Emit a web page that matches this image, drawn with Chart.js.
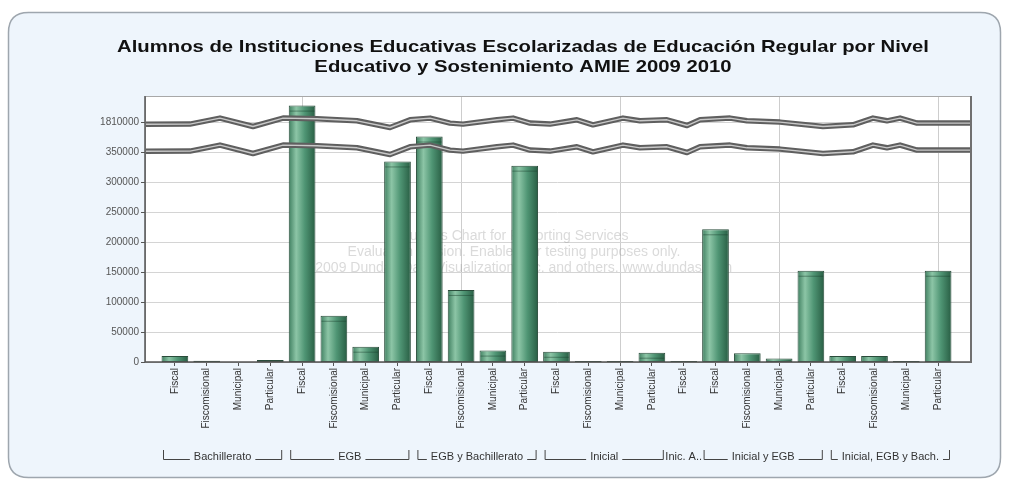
<!DOCTYPE html>
<html><head><meta charset="utf-8">
<script src="https://cdn.jsdelivr.net/npm/chart.js@4/dist/chart.umd.min.js"></script>
<style>html,body{margin:0;padding:0;background:#fff;overflow:hidden}</style>
</head><body>
<canvas id="c" width="1009" height="482"></canvas>
<script>
// ---------- DATA ----------
const categories = [
  "Fiscal","Fiscomisional","Municipal","Particular",
  "Fiscal","Fiscomisional","Municipal","Particular",
  "Fiscal","Fiscomisional","Municipal","Particular",
  "Fiscal","Fiscomisional","Municipal","Particular",
  "Fiscal",
  "Fiscal","Fiscomisional","Municipal","Particular",
  "Fiscal","Fiscomisional","Municipal","Particular"
];
const groups = ["Bachillerato","EGB","EGB y Bachillerato","Inicial","Inic. A..","Inicial y EGB","Inicial, EGB y Bach."];
const groupSizes = [4,4,4,4,1,4,4];
const students = [
  10000, 2000, 0, 3300,
  1837000, 77000, 25500, 334000,
  375500, 120000, 19000, 327000,
  17000, 1800, 1600, 15500,
  1500,
  221000, 14400, 6000, 152000,
  10000, 10000, 1500, 152000
];
const tickValues = [0,50000,100000,150000,200000,250000,300000,350000,1810000];
const tickLabels = ["0","50000","100000","150000","200000","250000","300000","350000","1810000"];
const titleLines = [
  "Alumnos de Instituciones Educativas Escolarizadas de Educación Regular por Nivel",
  "Educativo y Sostenimiento AMIE 2009 2010"
];
const watermarkLines = [
  "Dundas Chart for Reporting Services",
  "Evaluation version. Enabled for testing purposes only.",
  "(C)2009 Dundas Data Visualization, Inc. and others. www.dundas.com"
];
// scale break: values between BREAK_LOW and BREAK_HIGH are collapsed
const BREAK_LOW = 400000;
const BREAK_HIGH = 1810000;
const AXIS_TOP = 443000;
function toAxis(v){ return v <= BREAK_LOW ? v : BREAK_LOW + (v - BREAK_HIGH); }

// ---------- STYLE ----------
const FONT = "'Liberation Sans', Arial, sans-serif";
const BAR_PCT = 0.84;
const FRAME_L = 14, FRAME_R = 16;
// wavy break shape: [fraction of frame width, dy px]
const WAVE = [[0,2.5],[.0545,2.3],[.0909,-3.7],[.1309,4.7],[.1673,-3.7],[.2085,-3],[.257,-1],[.297,5.7],[.3212,-2],[.3455,-3.7],[.3697,1.3],[.3855,2.3],[.4267,-2],[.4461,-3.7],[.4667,1.3],[.4909,2.3],[.5236,-2],[.5430,3],[.5794,-3.7],[.6,-1],[.6327,-2],[.6570,3.7],[.6727,-2],[.7091,-3.7],[.7297,-1],[.7697,.3],[.8218,4.7],[.8582,3],[.8824,-3.7],[.8994,-1],[.9152,-3.7],[.9358,1.3],[1,1.3]];

function roundRect(ctx,x,y,w,h,r){
  ctx.beginPath();
  ctx.moveTo(x+r,y);ctx.lineTo(x+w-r,y);ctx.quadraticCurveTo(x+w,y,x+w,y+r);
  ctx.lineTo(x+w,y+h-r);ctx.quadraticCurveTo(x+w,y+h,x+w-r,y+h);
  ctx.lineTo(x+r,y+h);ctx.quadraticCurveTo(x,y+h,x,y+h-r);
  ctx.lineTo(x,y+r);ctx.quadraticCurveTo(x,y,x+r,y);ctx.closePath();
}

const decor = {
  id:'decor',
  beforeDraw(chart){
    const ctx = chart.ctx, a = chart.chartArea;
    ctx.save();
    ctx.fillStyle = '#ffffff'; ctx.fillRect(0,0,chart.width,chart.height);
    roundRect(ctx,8.5,12.5,992,465,20);
    ctx.fillStyle = '#eef5fc'; ctx.fill();
    ctx.lineWidth = 1.5; ctx.strokeStyle = '#9ea6ae'; ctx.stroke();
    // plot background
    ctx.fillStyle = '#ffffff';
    ctx.fillRect(a.left-FRAME_L, a.top, a.right-a.left+FRAME_L+FRAME_R, a.bottom-a.top);
    // title
    ctx.fillStyle = '#111';
    ctx.font = "bold 17px " + FONT;
    ctx.textAlign = 'center'; ctx.textBaseline = 'middle';
    const cx = 523;
    const w0 = ctx.measureText(titleLines[0]).width;
    const sx = 812 / w0;
    [47,67].forEach((y,i)=>{
      ctx.save(); ctx.translate(cx,y); ctx.scale(sx,1);
      ctx.fillText(titleLines[i],0,0); ctx.restore();
    });
    ctx.restore();
  },
  beforeDatasetsDraw(chart){
    const ctx = chart.ctx, a = chart.chartArea, ys = chart.scales.y;
    const fl = a.left-FRAME_L, fr = a.right+FRAME_R;
    ctx.save();
    ctx.strokeStyle = '#d4d4d4'; ctx.lineWidth = 1;
    ys.ticks.forEach(t=>{
      const y = Math.round(ys.getPixelForValue(t.value))+0.5;
      ctx.beginPath(); ctx.moveTo(fl,y); ctx.lineTo(fr,y); ctx.stroke();
    });
    // watermark
    ctx.fillStyle = 'rgba(140,140,140,0.32)';
    ctx.font = "14px " + FONT; ctx.textAlign='center'; ctx.textBaseline='middle';
    [236,252,268].forEach((y,i)=>ctx.fillText(watermarkLines[i],514,y));
    ctx.restore();
  },
  afterDatasetsDraw(chart){
    const ctx = chart.ctx, a = chart.chartArea, ys = chart.scales.y, xs = chart.scales.x;
    const fl = a.left-FRAME_L, fr = a.right+FRAME_R;
    ctx.save();
    // bar top caps
    const meta = chart.getDatasetMeta(0);
    meta.data.forEach(b=>{
      if (b.base - b.y > 9){
        ctx.strokeStyle='rgba(25,60,42,0.45)'; ctx.lineWidth=1;
        ctx.beginPath(); ctx.moveTo(b.x-b.width/2+1,b.y+5.5); ctx.lineTo(b.x+b.width/2-1,b.y+5.5); ctx.stroke();
      }
    });
    // breaks
    const yUp = ys.getPixelForValue(toAxis(BREAK_HIGH));
    [yUp, yUp+27].forEach(by=>{
      ctx.beginPath();
      WAVE.forEach((p,i)=>{ const x = fl + p[0]*(fr-fl), y = by + p[1]; i?ctx.lineTo(x,y):ctx.moveTo(x,y); });
      ctx.lineJoin='round'; ctx.lineCap='butt';
      ctx.strokeStyle='#5f5f5f'; ctx.lineWidth=5.5; ctx.stroke();
      ctx.strokeStyle='#c9c9c9'; ctx.lineWidth=1.4; ctx.stroke();
    });
    // frame
    ctx.strokeStyle='#a8a8a8'; ctx.lineWidth=1;
    ctx.strokeRect(fl+0.5, a.top+0.5, fr-fl, a.bottom-a.top);
    ctx.strokeStyle='#707070'; ctx.lineWidth=2;
    ctx.beginPath(); ctx.moveTo(fr+1,a.top); ctx.lineTo(fr+1,a.bottom+1); ctx.stroke();
    ctx.strokeStyle='#555'; ctx.lineWidth=1.5;
    ctx.beginPath(); ctx.moveTo(fl,a.top); ctx.lineTo(fl,a.bottom); ctx.lineTo(fr,a.bottom); ctx.stroke();
    // y tick marks
    ctx.lineWidth=1; ctx.strokeStyle='#555';
    ys.ticks.forEach(t=>{
      const y = Math.round(ys.getPixelForValue(t.value))+0.5;
      ctx.beginPath(); ctx.moveTo(fl-4,y); ctx.lineTo(fl,y); ctx.stroke();
    });
    // group brackets
    const half = (a.right-a.left)/categories.length/2;
    ctx.font = "11px " + FONT; ctx.textAlign='center'; ctx.textBaseline='middle';
    ctx.strokeStyle='#444'; ctx.fillStyle='#333'; ctx.lineWidth=1;
    let idx = 0;
    const yl = 459.5, yt = 450;
    groups.forEach((g,gi)=>{
      const n = groupSizes[gi];
      const x0 = xs.getPixelForValue(idx) - half + 4;
      const x1 = xs.getPixelForValue(idx+n-1) + half - 4;
      idx += n;
      const mid = (x0+x1)/2, tw = ctx.measureText(g).width;
      ctx.fillText(g, mid, 456.5);
      if (tw + 12 < x1-x0){
        ctx.beginPath();
        ctx.moveTo(x0+0.5,yt); ctx.lineTo(x0+0.5,yl); ctx.lineTo(mid-tw/2-4,yl);
        ctx.moveTo(mid+tw/2+4,yl); ctx.lineTo(x1-0.5,yl); ctx.lineTo(x1-0.5,yt);
        ctx.stroke();
      }
    });
    ctx.restore();
  }
};

new Chart(document.getElementById('c'), {
  type:'bar',
  data:{
    labels: categories,
    datasets:[{
      data: students.map(toAxis),
      borderColor:'#2a4c3b', borderWidth:1, borderSkipped:false,
      barPercentage: BAR_PCT, categoryPercentage: 1,
      backgroundColor:(c)=>{
        const chart = c.chart, a = chart.chartArea;
        if (!a || c.type !== 'data') return '#4e9574';
        const x = chart.scales.x.getPixelForValue(c.dataIndex);
        const w = (a.right-a.left)/categories.length*BAR_PCT;
        const g = chart.ctx.createLinearGradient(x-w/2,0,x+w/2,0);
        g.addColorStop(0,'#3f7f60'); g.addColorStop(0.28,'#8cc5a6');
        g.addColorStop(0.6,'#4f9574'); g.addColorStop(1,'#285d43');
        return g;
      }
    }]
  },
  options:{
    responsive:false, animation:false, devicePixelRatio:1,
    layout:{padding:{left:99,right:55,top:96,bottom:52}},
    plugins:{legend:{display:false}, title:{display:false}, tooltip:{enabled:false}},
    scales:{
      x:{
        type:'category', offset:true,
        grid:{offset:false, drawOnChartArea:true, lineWidth:1,
          color:(c)=> (c.index%5===4)?'#cdcdcd':'rgba(0,0,0,0)',
          tickColor:'#555', tickLength:4},
        border:{display:false},
        ticks:{autoSkip:false, minRotation:90, maxRotation:90, padding:2, color:'#333', font:{size:10, family:FONT}},
        afterFit:(s)=>{ s.height = 68; }
      },
      y:{
        type:'linear', min:0, max:AXIS_TOP,
        afterBuildTicks:(s)=>{ s.ticks = tickValues.map(v=>({value: toAxis(v)})); },
        ticks:{ callback:(v,i)=>tickLabels[i], color:'#555', padding:20, font:{size:10, family:FONT} },
        grid:{display:false, drawTicks:false}, border:{display:false},
        afterFit:(s)=>{ s.width = 60; }
      }
    }
  },
  plugins:[decor]
});
</script>
</body></html>
